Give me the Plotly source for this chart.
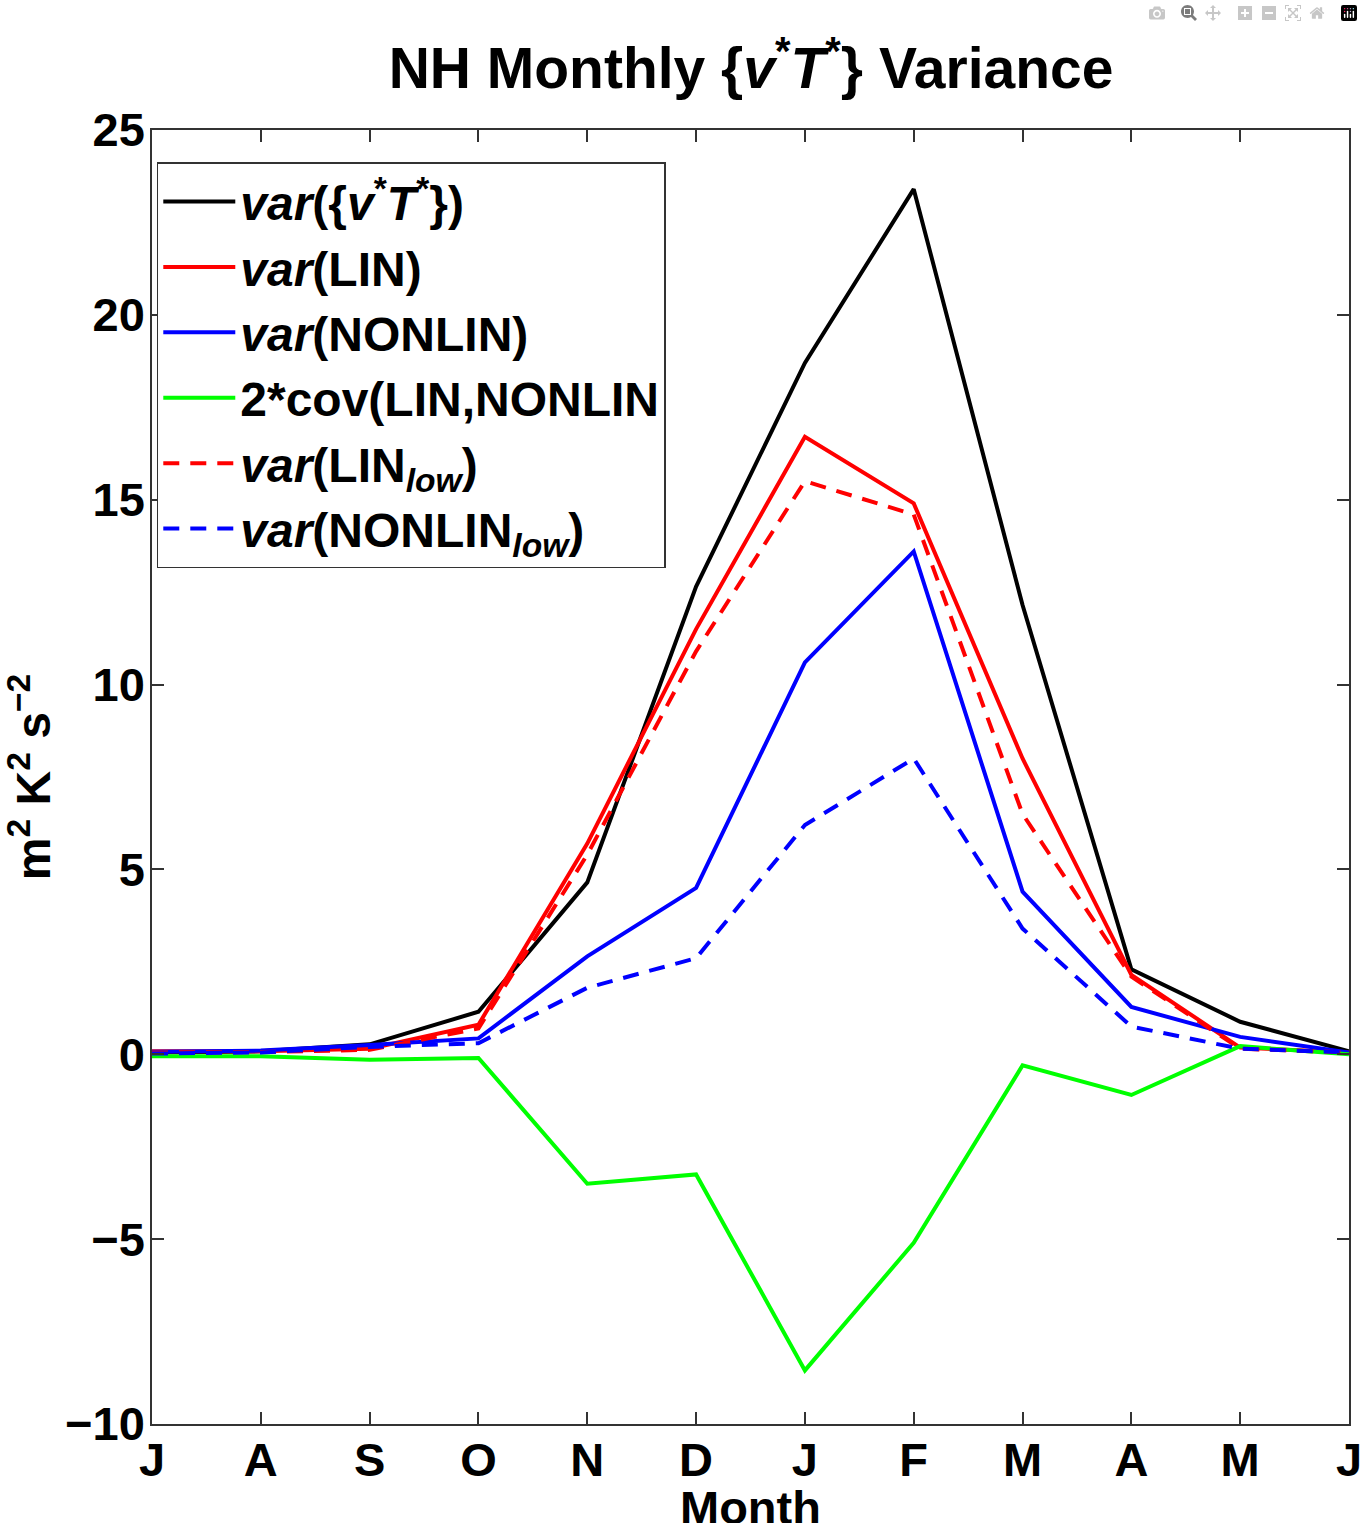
import plotly.graph_objects as go

months = ["J", "A", "S", "O", "N", "D", "J", "F", "M", "A", "M", "J"]

var_vT = [0.05, 0.08, 0.27, 1.15, 4.65, 12.65, 18.7, 23.4, 12.15, 2.3, 0.88, 0.08]
var_lin = [0.08, 0.08, 0.15, 0.8, 5.7, 11.5, 16.7, 14.9, 8.0, 2.15, 0.18, 0.05]
var_nonlin = [0.07, 0.1, 0.25, 0.43, 2.65, 4.5, 10.6, 13.6, 4.4, 1.28, 0.47, 0.05]
cov_lin_nonlin = [-0.05, -0.05, -0.15, -0.1, -3.5, -3.25, -8.55, -5.1, -0.3, -1.1, 0.22, 0.0]
var_lin_low = [0.05, 0.06, 0.12, 0.7, 5.4, 10.9, 15.5, 14.6, 6.5, 2.1, 0.15, 0.05]
var_nonlin_low = [0.02, 0.05, 0.2, 0.3, 1.8, 2.6, 6.2, 8.0, 3.4, 0.75, 0.15, 0.05]

xpos = list(range(len(months)))

series = [
    ("<i>var</i>({<i>v</i><sup>*</sup><i>T</i><sup>*</sup>})", var_vT, "#000000", "solid"),
    ("<i>var</i>(LIN)", var_lin, "#ff0000", "solid"),
    ("<i>var</i>(NONLIN)", var_nonlin, "#0000ff", "solid"),
    ("2*cov(LIN,NONLIN", cov_lin_nonlin, "#00ff00", "solid"),
    ("<i>var</i>(LIN<sub><i>low</i></sub>)", var_lin_low, "#ff0000", "16px,11px"),
    ("<i>var</i>(NONLIN<sub><i>low</i></sub>)", var_nonlin_low, "#0000ff", "16px,11px"),
]

fig = go.Figure()
for name, vals, color, dash in series:
    fig.add_trace(go.Scatter(
        x=xpos, y=vals, name=name, mode="lines",
        line=dict(color=color, width=4, dash=dash),
    ))

font_family = "Liberation Sans, Arial, Helvetica, sans-serif"

fig.update_layout(
    width=1363, height=1523,
    margin=dict(l=152, r=14, t=130, b=99),
    paper_bgcolor="white", plot_bgcolor="white",
    font=dict(family=font_family, color="black", size=44, weight="bold"),
    title=dict(
        text="NH Monthly {<i>v</i><sup>*</sup><i>T</i><sup>*</sup>} Variance",
        x=0.551, xanchor="center", y=0.955, yanchor="middle",
        font=dict(size=57, family=font_family, weight="bold"),
    ),
    showlegend=True,
    legend=dict(
        x=0.004, y=0.975, xanchor="left", yanchor="top",
        bgcolor="white", bordercolor="#333333", borderwidth=1.5,
        font=dict(size=48, family=font_family, weight="bold"),
        tracegroupgap=0, itemwidth=72,
    ),
    annotations=[dict(
        text="Month", xref="paper", yref="paper", x=0.5, y=0,
        xanchor="center", yanchor="top", yshift=-55, showarrow=False,
        font=dict(size=47, family=font_family, weight="bold", color="black"),
    )],
)

fig.update_xaxes(
    range=[0, 11], tickmode="array", tickvals=xpos, ticktext=months,
    ticks="inside", ticklen=12, tickwidth=1.5, tickcolor="#333333",
    showline=True, linecolor="#333333", linewidth=1.5, mirror="ticks",
    showgrid=False, zeroline=False, automargin=False,
    ticklabelstandoff=-6,
    tickfont=dict(size=47, weight="bold"),
)
fig.update_yaxes(
    range=[-10, 25], tickmode="array", tickvals=[-10, -5, 0, 5, 10, 15, 20, 25],
    ticktext=["\u221210", "\u22125", "0", "5", "10", "15", "20", "25"],
    ticks="inside", ticklen=12, tickwidth=1.5, tickcolor="#333333",
    showline=True, linecolor="#333333", linewidth=1.5, mirror="ticks",
    showgrid=False, zeroline=False, automargin=False,
    ticklabelstandoff=-4,
    tickfont=dict(size=47, weight="bold"),
    title=dict(text="m<sup>2</sup> K<sup>2</sup> s<sup>\u22122</sup>", standoff=18,
               font=dict(size=48, weight="bold")),
)

fig.write_html("out.html", post_script="document.body.style.margin='0';")
